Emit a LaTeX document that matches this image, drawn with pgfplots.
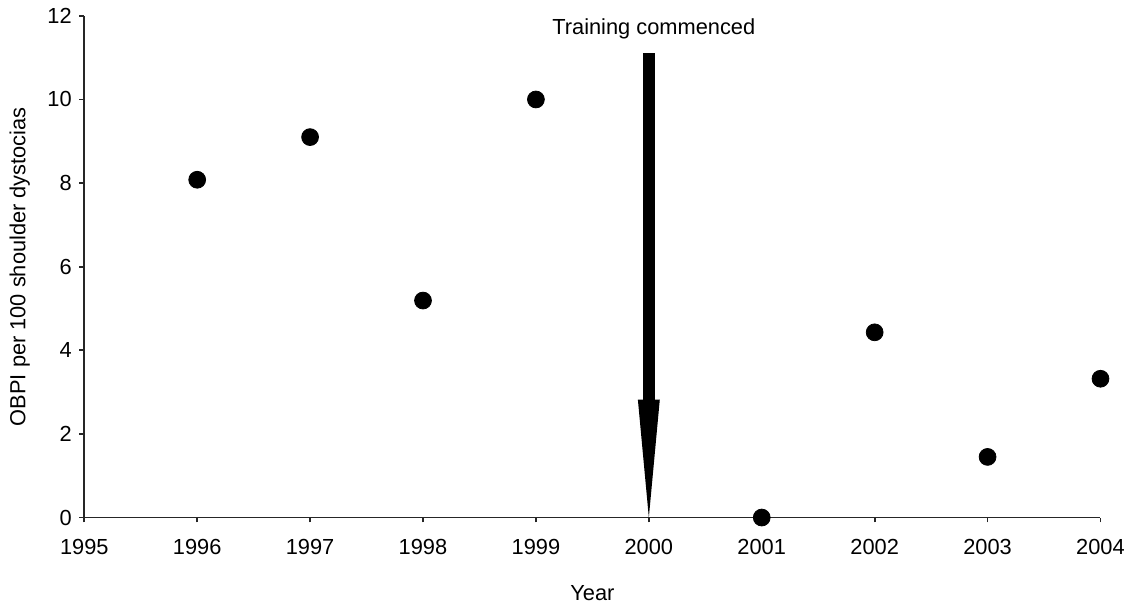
\documentclass[border=0pt]{standalone}
\usepackage{pgfplots}
\pgfplotsset{compat=1.18}
\usepackage{fontspec}
\setmainfont{Liberation Sans}
\begin{document}
\fontsize{11}{13}\selectfont
\begin{tikzpicture}
\begin{axis}[
    scale only axis,
    width=512.5pt,
    height=253pt,
    xmin=1995, xmax=2004,
    ymin=0, ymax=12,
    xtick={1995,1996,...,2004},
    ytick={0,2,...,12},
    axis lines=left,
    axis line style={-, line width=0.9pt, black!85},
    tick style={line width=0.9pt, black!85},
    tick align=outside,
    major tick length=2.5pt,
    xticklabel style={yshift=-4.5pt},
    /pgf/number format/assume math mode=true,
    /pgf/number format/1000 sep={},
    xlabel={Year},
    ylabel={OBPI per 100 shoulder dystocias},
    every axis x label/.style={at={(axis description cs:0.5,0)}, yshift=-38pt, anchor=center},
    every axis y label/.style={at={(axis description cs:0,0.5)}, xshift=-32.5pt, rotate=90, anchor=center},
    clip=false,
]
% OBPI rate per year
\addplot[only marks, mark=*, mark size=4.25pt, black] coordinates {
    (1996, 8.08) (1997, 9.10) (1998, 5.19) (1999, 10.0)
    (2001, 0.0) (2002, 4.43) (2003, 1.45) (2004, 3.32)
};

% training arrow
\fill[black] (axis cs:1999.947,11.1) rectangle (axis cs:2000.053,2.82);
\fill[black] (axis cs:1999.903,2.82) -- (axis cs:2000.097,2.82) -- (axis cs:2000,0) -- cycle;
\node at (axis cs:2000,11.7) [xshift=2.5pt] {Training commenced};
\end{axis}
\path (current axis.south west) ++(-42.5pt,-44pt) coordinate (bl);
\path (current axis.north east) ++(11pt,8pt) coordinate (tr);
\path (bl) rectangle (tr);
\end{tikzpicture}
\end{document}
